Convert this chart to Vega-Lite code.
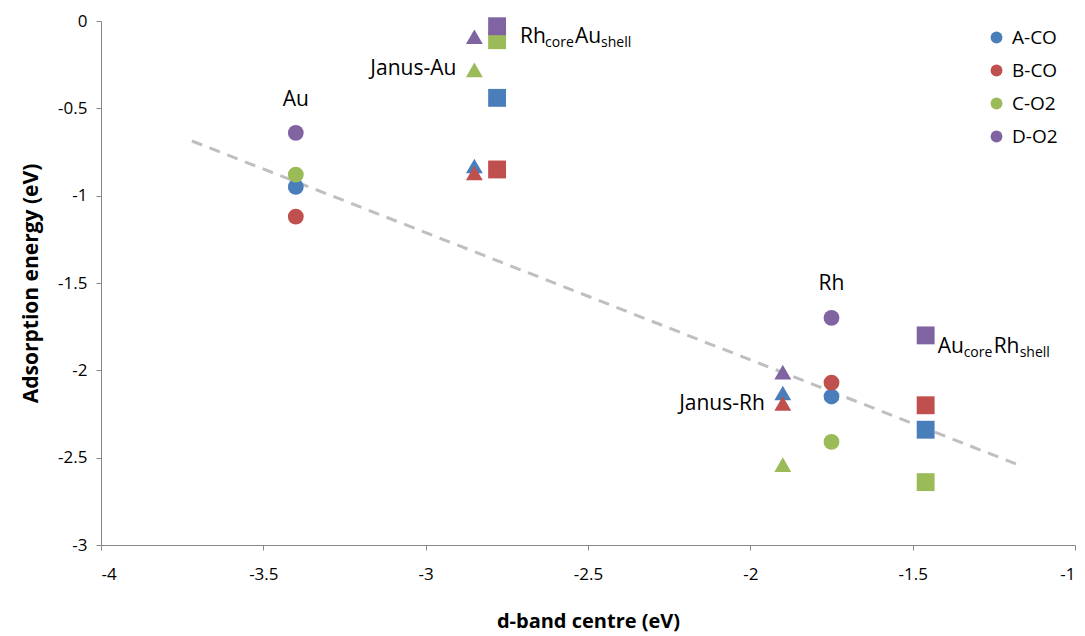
{
  "$schema": "https://vega.github.io/schema/vega-lite/v6.json",
  "width": 974,
  "height": 524,
  "autosize": {"type": "none"},
  "padding": {"left": 101, "top": 21, "right": 10, "bottom": 91},
  "background": "white",
  "config": {
    "view": {"stroke": null},
    "font": "Open Sans",
    "axis": {
      "grid": false,
      "domainColor": "#868686",
      "tickColor": "#868686",
      "tickSize": 5,
      "labelColor": "#000000",
      "labelFont": "Open Sans",
      "labelFontSize": 17,
      "titleFont": "Open Sans",
      "titleFontWeight": "bold",
      "titleColor": "#000000"
    }
  },
  "datasets": {
    "pts": [
      {"material": "Au", "structure": "pure", "species": "A-CO", "x": -3.4, "y": -0.95},
      {"material": "Au", "structure": "pure", "species": "B-CO", "x": -3.4, "y": -1.12},
      {"material": "Au", "structure": "pure", "species": "C-O2", "x": -3.4, "y": -0.88},
      {"material": "Au", "structure": "pure", "species": "D-O2", "x": -3.4, "y": -0.64},
      {"material": "Janus-Au", "structure": "janus", "species": "A-CO", "x": -2.85, "y": -0.83},
      {"material": "Janus-Au", "structure": "janus", "species": "B-CO", "x": -2.85, "y": -0.87},
      {"material": "Janus-Au", "structure": "janus", "species": "C-O2", "x": -2.85, "y": -0.28},
      {"material": "Janus-Au", "structure": "janus", "species": "D-O2", "x": -2.85, "y": -0.09},
      {"material": "RhcoreAushell", "structure": "coreshell", "species": "A-CO", "x": -2.78, "y": -0.44},
      {"material": "RhcoreAushell", "structure": "coreshell", "species": "B-CO", "x": -2.78, "y": -0.85},
      {"material": "RhcoreAushell", "structure": "coreshell", "species": "C-O2", "x": -2.78, "y": -0.11},
      {"material": "RhcoreAushell", "structure": "coreshell", "species": "D-O2", "x": -2.78, "y": -0.03},
      {"material": "Janus-Rh", "structure": "janus", "species": "A-CO", "x": -1.9, "y": -2.13},
      {"material": "Janus-Rh", "structure": "janus", "species": "B-CO", "x": -1.9, "y": -2.19},
      {"material": "Janus-Rh", "structure": "janus", "species": "C-O2", "x": -1.9, "y": -2.54},
      {"material": "Janus-Rh", "structure": "janus", "species": "D-O2", "x": -1.9, "y": -2.01},
      {"material": "Rh", "structure": "pure", "species": "A-CO", "x": -1.75, "y": -2.15},
      {"material": "Rh", "structure": "pure", "species": "B-CO", "x": -1.75, "y": -2.07},
      {"material": "Rh", "structure": "pure", "species": "C-O2", "x": -1.75, "y": -2.41},
      {"material": "Rh", "structure": "pure", "species": "D-O2", "x": -1.75, "y": -1.7},
      {"material": "AucoreRhshell", "structure": "coreshell", "species": "A-CO", "x": -1.46, "y": -2.34},
      {"material": "AucoreRhshell", "structure": "coreshell", "species": "B-CO", "x": -1.46, "y": -2.2},
      {"material": "AucoreRhshell", "structure": "coreshell", "species": "C-O2", "x": -1.46, "y": -2.64},
      {"material": "AucoreRhshell", "structure": "coreshell", "species": "D-O2", "x": -1.46, "y": -1.8}
    ],
    "trend": [
      {"x": -3.72, "y": -0.687},
      {"x": -1.176, "y": -2.54}
    ],
    "labels": [
      {"name": "Au", "x": -3.4, "y": -0.455},
      {"name": "Janus-Au", "x": -2.85, "y": -0.275},
      {"name": "Rh", "x": -1.75, "y": -1.505},
      {"name": "Janus-Rh", "x": -1.9, "y": -2.19},
      {"name": "RhcoreAushell", "x": -2.78, "y": -0.09},
      {"name": "AucoreRhshell", "x": -1.46, "y": -1.86}
    ]
  },
  "layer": [
    {
      "data": {"name": "trend"},
      "mark": {"type": "line", "color": "#BFBFBF", "strokeWidth": 3, "strokeDash": [11, 8]},
      "encoding": {
        "x": {"field": "x", "type": "quantitative", "scale": {"domain": [-4, -1]},
          "axis": {"values": [-4, -3.5, -3, -2.5, -2, -1.5, -1], "labelExpr": "'' + datum.value", "title": "d-band centre (eV)", "titleFontSize": 20, "labelPadding": 16, "titlePadding": 29}},
        "y": {"field": "y", "type": "quantitative", "scale": {"domain": [-3, 0]},
          "axis": {"values": [0, -0.5, -1, -1.5, -2, -2.5, -3], "labelExpr": "'' + datum.value", "title": "Adsorption energy (eV)", "titleFontSize": 21, "labelPadding": 9, "titlePadding": 16}}
      }
    },
    {
      "data": {"name": "pts"},
      "mark": {"type": "point", "filled": true, "opacity": 1},
      "encoding": {
        "x": {"field": "x", "type": "quantitative"},
        "y": {"field": "y", "type": "quantitative"},
        "color": {"field": "species", "type": "nominal",
          "scale": {"domain": ["A-CO", "B-CO", "C-O2", "D-O2"], "range": ["#4A7EBB", "#C0504D", "#9BBB59", "#8064A2"]},
          "legend": {"title": null, "orient": "none", "legendX": 886, "legendY": 7, "padding": 0,
            "symbolType": "circle", "symbolSize": 140, "symbolOpacity": 1, "labelFontSize": 19, "labelFont": "Open Sans", "labelColor": "#000000", "labelOffset": 6, "rowPadding": 13}},
        "shape": {"field": "structure", "type": "nominal",
          "scale": {"domain": ["pure", "janus", "coreshell"], "range": ["circle", "triangle-up", "square"]},
          "legend": null},
        "size": {"field": "structure", "type": "nominal",
          "scale": {"domain": ["pure", "janus", "coreshell"], "range": [250, 320, 250]},
          "legend": null},
        "order": {"field": "species"}
      }
    },
    {
      "data": {"name": "labels"},
      "transform": [{"filter": "datum.name == 'Au' || datum.name == 'Rh'"}],
      "mark": {"type": "text", "fontSize": 21, "font": "Open Sans", "align": "center", "baseline": "middle", "color": "#000000"},
      "encoding": {"x": {"field": "x", "type": "quantitative"}, "y": {"field": "y", "type": "quantitative"}, "text": {"field": "name"}}
    },
    {
      "data": {"name": "labels"},
      "transform": [{"filter": "datum.name == 'Janus-Au' || datum.name == 'Janus-Rh'"}],
      "mark": {"type": "text", "fontSize": 21, "font": "Open Sans", "align": "right", "baseline": "middle", "dx": -18, "color": "#000000"},
      "encoding": {"x": {"field": "x", "type": "quantitative"}, "y": {"field": "y", "type": "quantitative"}, "text": {"field": "name"}}
    },
    {
      "data": {"name": "labels"},
      "transform": [{"filter": "datum.name == 'RhcoreAushell'"}],
      "layer": [
        {"mark": {"type": "text", "text": "Rh", "fontSize": 21, "font": "Open Sans", "align": "left", "baseline": "alphabetic", "dx": 23, "dy": 6, "color": "#000000"}},
        {"mark": {"type": "text", "text": "core", "fontSize": 14, "font": "Open Sans", "align": "left", "baseline": "alphabetic", "dx": 48, "dy": 10, "color": "#000000"}},
        {"mark": {"type": "text", "text": "Au", "fontSize": 21, "font": "Open Sans", "align": "left", "baseline": "alphabetic", "dx": 78, "dy": 6, "color": "#000000"}},
        {"mark": {"type": "text", "text": "shell", "fontSize": 14, "font": "Open Sans", "align": "left", "baseline": "alphabetic", "dx": 104, "dy": 10, "color": "#000000"}}
      ],
      "encoding": {"x": {"field": "x", "type": "quantitative"}, "y": {"field": "y", "type": "quantitative"}}
    },
    {
      "data": {"name": "labels"},
      "transform": [{"filter": "datum.name == 'AucoreRhshell'"}],
      "layer": [
        {"mark": {"type": "text", "text": "Au", "fontSize": 21, "font": "Open Sans", "align": "left", "baseline": "alphabetic", "dx": 12, "dy": 7, "color": "#000000"}},
        {"mark": {"type": "text", "text": "core", "fontSize": 14, "font": "Open Sans", "align": "left", "baseline": "alphabetic", "dx": 38, "dy": 11, "color": "#000000"}},
        {"mark": {"type": "text", "text": "Rh", "fontSize": 21, "font": "Open Sans", "align": "left", "baseline": "alphabetic", "dx": 68, "dy": 7, "color": "#000000"}},
        {"mark": {"type": "text", "text": "shell", "fontSize": 14, "font": "Open Sans", "align": "left", "baseline": "alphabetic", "dx": 94, "dy": 11, "color": "#000000"}}
      ],
      "encoding": {"x": {"field": "x", "type": "quantitative"}, "y": {"field": "y", "type": "quantitative"}}
    }
  ]
}
